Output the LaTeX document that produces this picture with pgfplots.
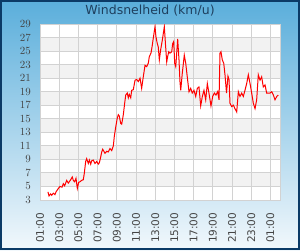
\documentclass[border=0pt]{standalone}
\usepackage{pgfplots}
\pgfplotsset{compat=1.18}
\usepackage{fontspec}
\setmainfont{DejaVu Sans}
\definecolor{bgtop}{HTML}{5AAEDB}
\definecolor{bgbot}{HTML}{F2F8FC}
\definecolor{framec}{HTML}{0B3A66}
\definecolor{gridc}{HTML}{D2D2D2}
\definecolor{band}{HTML}{F2F2F2}
\definecolor{titlec}{HTML}{1E3F5E}
\definecolor{tickc}{HTML}{444444}
\begin{document}
\begin{tikzpicture}
\begin{scope}[x=1pt,y=1pt]
\useasboundingbox (0,0) rectangle (300,250);
\shade[top color=bgtop, bottom color=bgbot] (0,0) rectangle (300,250);
\draw[framec, line width=2pt] (1,1) rectangle (299,249);
\node[font=\fontsize{12.5}{14}\selectfont, text=titlec] at (150,239) {Windsnelheid (km/u)};
\fill[white] (40,50) rectangle (280,226);
\foreach \v in {5,9,...,25} {
  \fill[band] (40,{50+(\v-3)*176/26}) rectangle (280,{50+(\v-1)*176/26});
}
\end{scope}
\begin{axis}[
  at={(40pt,50pt)}, anchor=south west,
  width=240pt, height=176pt, scale only axis,
  xmin=1, xmax=26, ymin=3, ymax=29,
  grid=major,
  major grid style={gridc, line width=1pt},
  axis line style={gridc, line width=1pt},
  major tick length=0pt,
  xtick={1,3,...,25},
  xticklabels={01:00,03:00,05:00,07:00,09:00,11:00,13:00,15:00,17:00,19:00,21:00,23:00,01:00},
  ytick={3,5,...,29},
  tick label style={font=\fontsize{10.5}{12}\selectfont, text=tickc, inner sep=0pt},
  xticklabel style={rotate=90, anchor=east},
  yticklabel style={anchor=east},
  xticklabel shift=12.5pt,
  yticklabel shift=9pt,
]
\addplot[red, line width=1pt] coordinates {
(1.83,4.2) (1.94,3.6) (2.11,3.9) (2.22,3.7) (2.39,4.0) (2.56,3.8) (2.67,4.2) (2.91,4.7)
(3.08,5.0) (3.29,4.9) (3.43,5.4) (3.57,5.1) (3.78,5.9) (3.95,5.5) (4.05,5.7) (4.20,6.0)
(4.36,6.4) (4.47,5.9) (4.61,5.7) (4.75,6.2) (4.89,4.7) (5.03,5.6) (5.17,5.7) (5.34,5.9)
(5.51,6.0) (5.61,6.9) (5.76,8.7) (5.86,9.1) (6.03,8.4) (6.14,8.9) (6.28,8.3) (6.39,8.8)
(6.55,8.9) (6.73,8.4) (6.91,8.7) (7.07,8.3) (7.18,8.5) (7.30,9.2)
(7.43,10.1) (7.53,10.5) (7.77,9.9) (7.95,10.2) (8.11,10.1) (8.29,10.6) (8.47,10.3) (8.64,11.0)
(8.74,12.4) (8.89,13.8) (9.05,15.1) (9.16,15.6) (9.26,15.4) (9.41,14.3) (9.51,14.2) (9.68,15.6)
(9.82,17.3) (9.93,18.5) (10.09,18.8) (10.20,18.1) (10.30,18.6) (10.45,18.1) (10.55,19.2) (10.72,19.3)
(10.90,20.7) (11.07,20.8) (11.24,20.5) (11.42,21.0) (11.59,19.5) (11.76,21.2) (11.94,22.9) (12.11,22.7)
(12.28,23.2) (12.39,24.2) (12.56,24.7) (12.67,25.6) (12.80,26.9) (12.98,28.6) (13.08,27.1) (13.22,26.1)
(13.32,25.6) (13.43,23.7) (13.57,25.2) (13.74,26.6) (13.95,28.6) (14.09,25.6) (14.20,23.4) (14.30,24.2)
(14.41,24.9) (14.54,24.7) (14.72,24.9) (14.82,26.1) (14.93,26.4) (15.03,23.2) (15.14,22.7) (15.24,24.7)
(15.34,26.8) (15.48,23.7) (15.58,20.5) (15.66,19.2) (15.82,21.7) (16.03,24.4) (16.18,23.2) (16.34,21.2)
(16.52,19.0) (16.70,19.5) (16.86,18.8) (17.04,19.2) (17.22,18.3) (17.39,19.5) (17.56,19.7) (17.74,16.9)
(17.91,18.3) (18.08,19.2) (18.26,17.8) (18.43,20.2) (18.60,18.8) (18.81,16.9) (18.99,18.3) (19.16,18.8)
(19.33,18.5) (19.51,19.0) (19.65,17.8) (19.75,24.7) (19.85,24.9) (19.99,23.7) (20.14,23.2) (20.27,21.5)
(20.43,18.8) (20.58,21.3) (20.69,20.8) (20.79,17.3) (20.97,16.8) (21.14,17.0) (21.31,16.5) (21.49,16.0)
(21.66,19.0) (21.83,18.3) (22.01,18.8) (22.18,18.3) (22.35,19.2) (22.53,20.2) (22.70,21.5) (22.88,20.2)
(23.05,18.8) (23.22,17.3) (23.40,16.5) (23.57,17.8) (23.74,21.5) (23.92,20.7) (24.09,21.2) (24.26,19.7)
(24.44,20.0) (24.61,18.8) (24.78,18.8) (24.96,18.8) (25.14,19.0) (25.31,18.5) (25.48,17.8) (25.66,18.3)
(25.82,18.5)
};
\end{axis}
\end{tikzpicture}
\end{document}
